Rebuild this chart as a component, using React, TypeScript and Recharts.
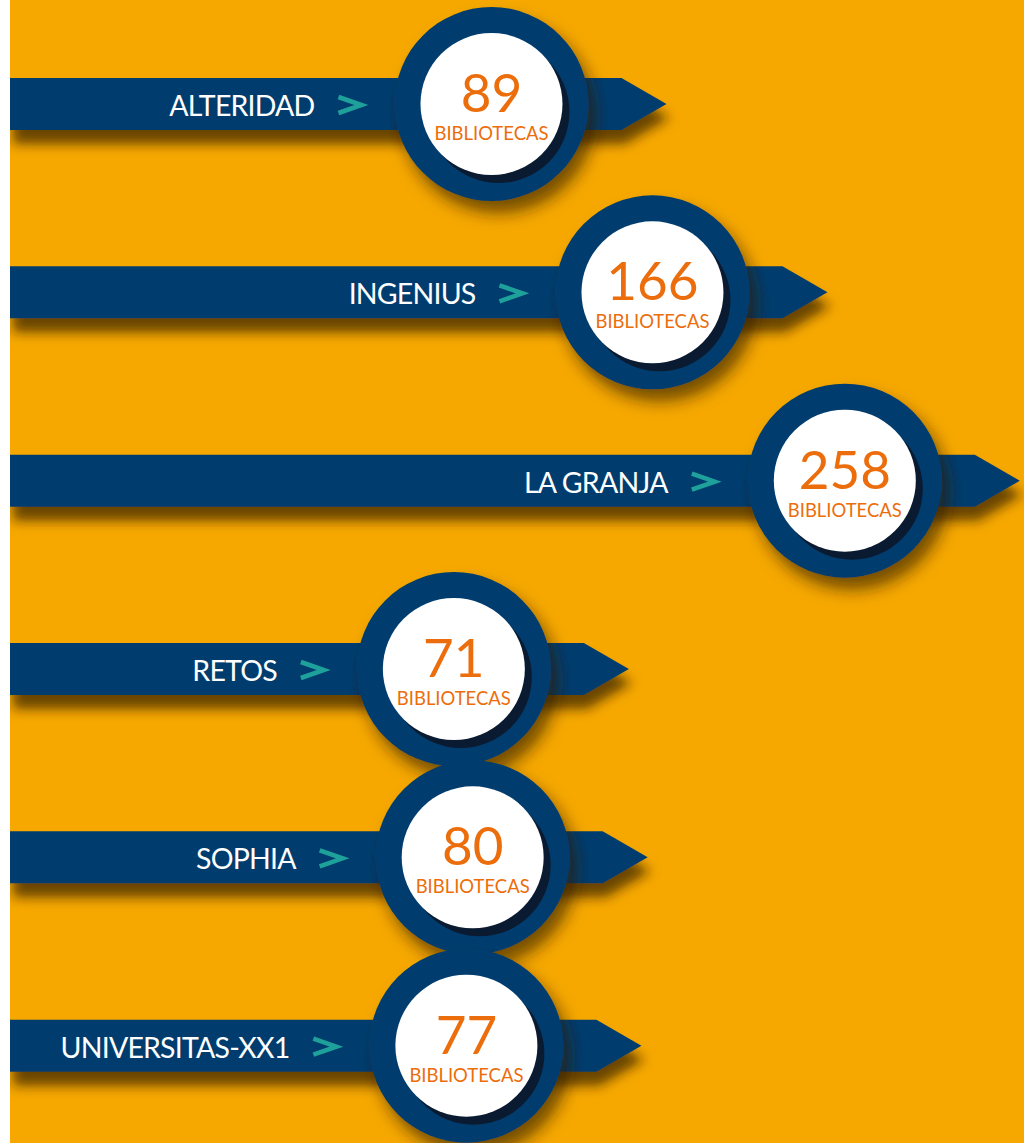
import { BarChart, Bar, XAxis, YAxis } from 'recharts';

// revistas y número de bibliotecas
const journals = ['ALTERIDAD', 'INGENIUS', 'LA GRANJA', 'RETOS', 'SOPHIA', 'UNIVERSITAS-XX1'];
const libraries = [89, 166, 258, 71, 80, 77];
const unitLabel = 'BIBLIOTECAS';

const data = journals.map((name, i) => ({ name, value: libraries[i] }));

const BG = '#F6A800';
const NAVY = '#023D6E';
const ORANGE = '#EC6D0B';
const TEAL = '#1FA19B';
const FONT = 'Lato, "Noto Sans", sans-serif';

function Ribbon(props: any) {
  const { x, y, width, height, payload } = props;
  const tip = x + width;
  const cy = y + height / 2;
  const half = height / 2;
  const cx = tip - 175;
  const R = 97;
  const r = 71;
  const textEnd = cx - R - 80;
  const ribbon = `M0,${cy - half} L${tip - 45},${cy - half} L${tip},${cy} L${tip - 45},${cy + half} L0,${cy + half} Z`;
  const chev = `M${textEnd + 24},${cy - 7} L${textEnd + 47},${cy + 1} L${textEnd + 24},${cy + 9}`;

  return (
    <g>
      <path d={ribbon} fill={NAVY} filter="url(#ribbonShadow)" />
      <circle cx={cx} cy={cy} r={R} fill={NAVY} filter="url(#discShadow)" />
      <circle cx={cx + 7} cy={cy + 8} r={r} fill="#0A1B31" />
      <circle cx={cx} cy={cy} r={r} fill="#FFFFFF" />
      <text x={cx} y={cy + 8} textAnchor="middle" fontSize={53} fill={ORANGE} fontFamily={FONT}>
        {payload.value}
      </text>
      <text x={cx} y={cy + 36} textAnchor="middle" fontSize={20} fill={ORANGE} fontFamily={FONT}
        textLength={114} lengthAdjust="spacingAndGlyphs">
        {unitLabel}
      </text>
      <text x={textEnd} y={cy + 12} textAnchor="end" fontSize={28.5} letterSpacing={-0.8}
        fill="#FFFFFF" fontFamily={FONT}>
        {payload.name}
      </text>
      <path d={chev} fill="none" stroke={TEAL} strokeWidth={4.5} strokeLinejoin="miter" />
    </g>
  );
}

export default function App() {
  return (
    <div style={{ position: 'absolute', top: 0, left: 10, width: 1014, height: 1143, background: BG, overflow: 'hidden' }}>
      <BarChart width={1014} height={1143} data={data} layout="vertical"
        margin={{ top: 10, right: 0, bottom: 3, left: 0 }}>
        <defs>
          <filter id="ribbonShadow" x="-5%" y="-50%" width="110%" height="280%">
            <feDropShadow dx="3" dy="14" stdDeviation="6" floodColor="#2E1D00" floodOpacity="0.7" />
          </filter>
          <filter id="discShadow" x="-40%" y="-40%" width="180%" height="180%">
            <feDropShadow dx="7" dy="12" stdDeviation="8" floodColor="#2E1D00" floodOpacity="0.65" />
          </filter>
        </defs>
        <XAxis type="number" domain={[-225, 260]} scale="linear" hide />
        <YAxis type="category" dataKey="name" hide />
        <Bar dataKey="value" barSize={52} shape={<Ribbon />} isAnimationActive={false} />
      </BarChart>
    </div>
  );
}
